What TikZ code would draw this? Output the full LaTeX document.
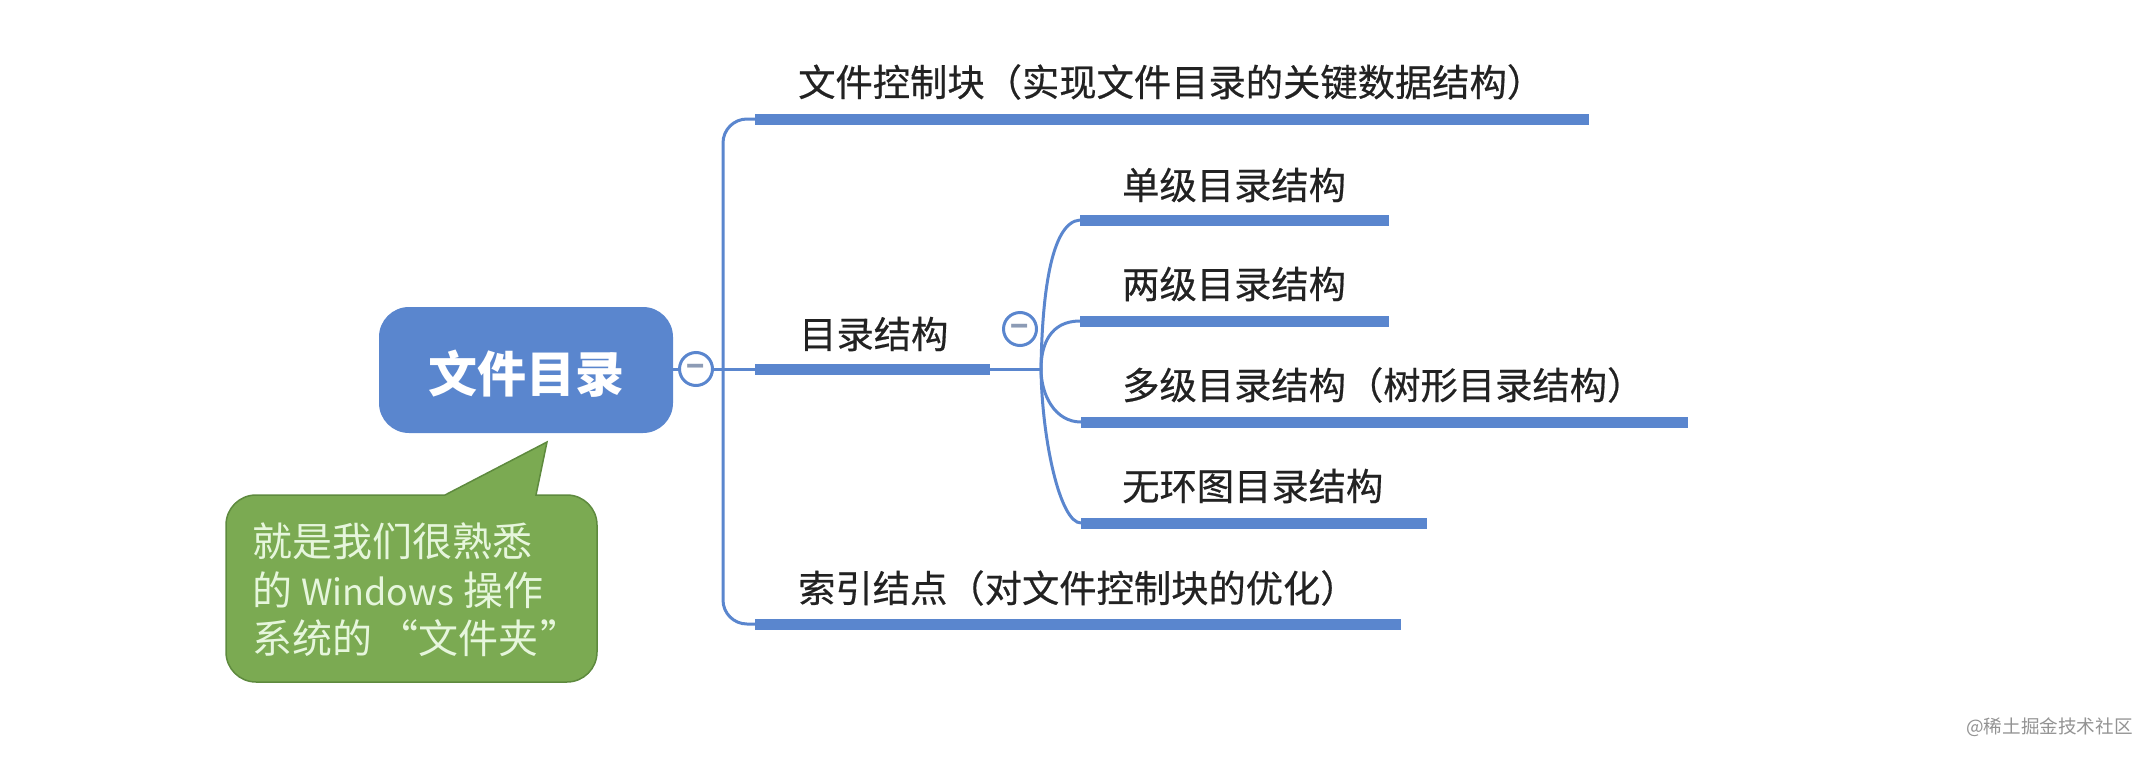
\documentclass[tikz,border=0pt]{standalone}
\usepackage{fontspec}
\setmainfont{Noto Sans CJK SC}
\newfontfamily\labelfont[FakeBold=0.5]{Noto Sans CJK SC}
\usepackage{tikz}

\definecolor{mapblue}{HTML}{5A86CE}
\definecolor{tipgreen}{HTML}{7BAA52}
\definecolor{tipedge}{HTML}{5E8A3E}
\definecolor{tiptext}{HTML}{E6F6DC}
\definecolor{labelgray}{HTML}{222222}
\definecolor{foldgray}{HTML}{8C9BB5}
\newcommand{\foldsign}{\smash{\raisebox{-8pt}{−}}}
\tikzset{
  rootbox/.style={fill=mapblue,rounded corners=30pt,minimum width=294pt,minimum height=126pt,
    inner sep=0pt,text=white,font=\fontsize{49}{49}\selectfont\bfseries},
  foldmark/.style={circle,draw=mapblue,fill=white,line width=3pt,minimum size=33pt,inner sep=0pt,
    text=foldgray,font=\fontsize{30}{30}\selectfont\bfseries},
  label/.style={anchor=west,inner sep=0pt,text=labelgray,font=\fontsize{37.3}{37.3}\selectfont\labelfont},
  bar/.style={draw=mapblue,line width=11pt},
  link/.style={draw=mapblue,line width=3pt},
  callout/.style={draw=tipedge,fill=tipgreen,line width=1.5pt},
}

\begin{document}
\begin{tikzpicture}[x=1pt,y=1pt]
\useasboundingbox (0,0) rectangle (2148,-758);
\coordinate (trunk) at (723,-369);
\coordinate (fork) at (1041,-369);
\coordinate (fcbL) at (755,-119);
\coordinate (fcbR) at (1589,-119);
\coordinate (dirL) at (755,-369);
\coordinate (dirR) at (990,-369);
\coordinate (idxL) at (755,-624);
\coordinate (idxR) at (1401,-624);
\coordinate (oneL) at (1080,-220);
\coordinate (oneR) at (1389,-220);
\coordinate (twoL) at (1080,-321);
\coordinate (twoR) at (1389,-321);
\coordinate (treeL) at (1081,-422);
\coordinate (treeR) at (1688,-422);
\coordinate (acycL) at (1081,-523);
\coordinate (acycR) at (1427,-523);
% links first, bars and marks go on top
\draw [link,rounded corners=24pt] (fcbL) -- (fcbL -| trunk) -- (idxL -| trunk) -- (idxL);
\draw [link] (dirR) -- (fork);
\draw [link] (fork) .. controls (1042,-300) and (1050,-222) .. (oneL);
\draw [link] (fork) .. controls (1041,-345) and (1050,-321) .. (twoL);
\draw [link] (fork) .. controls (1041,-395) and (1055,-422) .. (treeL);
\draw [link] (fork) .. controls (1042,-440) and (1060,-523) .. (acycL);
\node [rootbox] (root) at (526,-370) {\smash{\raisebox{-22pt}{文件目录}}};
\node [foldmark] (rootfold) at (696,-369) {\foldsign};
\draw [link] (root.east |- rootfold) -- (rootfold);
\draw [link] (rootfold) -- (dirL);
\node [foldmark] (dirfold) at (1020,-329) {\foldsign};
\draw [bar] (fcbL) -- (fcbR);
\draw [bar] (dirL) -- (dirR);
\draw [bar] (idxL) -- (idxR);
\draw [bar] (oneL) -- (oneR);
\draw [bar] (twoL) -- (twoR);
\draw [bar] (treeL) -- (treeR);
\draw [bar] (acycL) -- (acycR);
\node [label] (fcb) at (798,-82) {文件控制块（实现文件目录的关键数据结构）};
\node [label] (dir) at (799,-334) {目录结构};
\node [label] (idx) at (798,-588) {索引结点（对文件控制块的优化）};
\node [label] (one) at (1122,-185) {单级目录结构};
\node [label] (two) at (1122,-284) {两级目录结构};
\node [label] (tree) at (1122,-385) {多级目录结构（树形目录结构）};
\node [label] (acyc) at (1122,-486) {无环图目录结构};
% speech bubble
\draw [callout] (445,-495) -- (547,-442) -- (536,-495)
  {[rounded corners=30pt] -- (597,-495) -- (597,-682) -- (226,-682) -- (226,-495)} -- cycle;
\node [anchor=west,inner sep=0pt,align=left,text=tiptext,font=\fontsize{40}{48.5}\selectfont] (note) at (252,-590)
  {就是我们很熟悉\\的 {\fontsize{36}{48.5}\selectfont Windows} 操作\\系统的\hspace{6pt}“文件夹\hspace{2pt}”};
\node [anchor=west,inner sep=0pt,text=gray!85,font=\fontsize{18.6}{18.6}\selectfont] (mark) at (1966,-727) {@稀土掘金技术社区};
\end{tikzpicture}
\end{document}
